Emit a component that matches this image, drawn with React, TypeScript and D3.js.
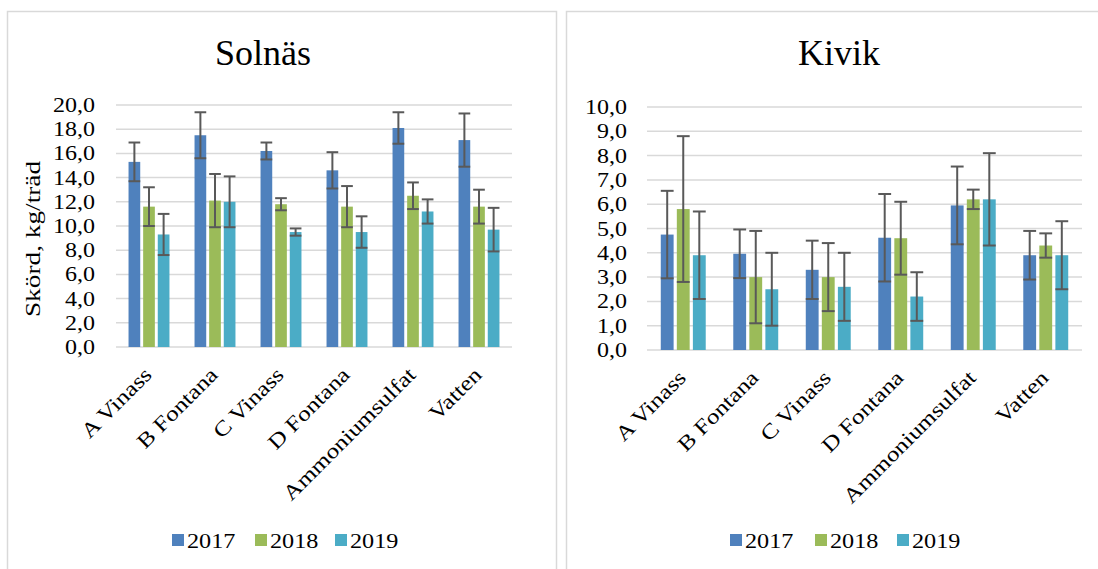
import React from "react";
import { scaleBand, scaleLinear } from "d3";

const categories = ["A Vinass", "B Fontana", "C Vinass", "D Fontana", "Ammoniumsulfat", "Vatten"];
const years = ["2017", "2018", "2019"];
const colors = ["#4F81BD", "#9BBB59", "#4BACC6"];

// Solnäs
const solnas2017 = [15.3, 17.5, 16.2, 14.6, 18.1, 17.1];
const solnas2018 = [11.6, 12.1, 11.8, 11.6, 12.5, 11.6];
const solnas2019 = [9.3, 12.0, 9.5, 9.5, 11.2, 9.7];
const solnasErr2017 = [1.6, 1.9, 0.7, 1.5, 1.3, 2.2];
const solnasErr2018 = [1.6, 2.2, 0.5, 1.7, 1.1, 1.4];
const solnasErr2019 = [1.7, 2.1, 0.3, 1.3, 1.0, 1.8];
const solnasTicks = [0, 2, 4, 6, 8, 10, 12, 14, 16, 18, 20];

// Kivik
const kivik2017 = [4.75, 3.96, 3.3, 4.62, 5.95, 3.9];
const kivik2018 = [5.8, 3.0, 3.0, 4.6, 6.2, 4.3];
const kivik2019 = [3.9, 2.5, 2.6, 2.2, 6.2, 3.9];
const kivikErr2017 = [1.8, 1.0, 1.2, 1.8, 1.6, 1.0];
const kivikErr2018 = [3.0, 1.9, 1.4, 1.5, 0.4, 0.5];
const kivikErr2019 = [1.8, 1.5, 1.4, 1.0, 1.9, 1.4];
const kivikTicks = [0, 1, 2, 3, 4, 5, 6, 7, 8, 9, 10];

const txt = { fontFamily: '"Liberation Serif", "DejaVu Serif", serif', fill: "#000" };
const fmt = (v: number) => v.toFixed(1).replace(".", ",");

type PanelProps = {
  title: string;
  series: number[][];
  errors: number[][];
  ticks: number[];
  left: number;
  right: number;
  zeroY: number;
  topY: number;
  titleX: number;
  labelX: number;
  legendX: number[];
  axisTitle?: string;
};

const Panel = (p: PanelProps) => {
  const yMax = p.ticks[p.ticks.length - 1];
  const y = scaleLinear().domain([0, yMax]).range([p.zeroY, p.topY]);
  const x0 = scaleBand<string>().domain(categories).range([p.left, p.right]).paddingInner(0.38).paddingOuter(0.19);
  const x1 = scaleBand<string>().domain(years).range([0, x0.bandwidth()]).paddingInner(0.2);
  const bw = x1.bandwidth();

  return (
    <g>
      <text x={p.titleX} y={65} textAnchor="middle" fontSize={36} style={txt}>
        {p.title}
      </text>
      {p.axisTitle && (
        <g transform={`translate(40, 239) rotate(-90) scale(1.3, 1)`}>
          <text x={0} y={0} textAnchor="middle" fontSize={21} style={txt}>
            {p.axisTitle}
          </text>
        </g>
      )}
      {p.ticks.map((t) => (
        <g key={t}>
          <line x1={p.left} x2={p.right} y1={y(t)} y2={y(t)} stroke="#D9D9D9" strokeWidth={1.5} />
          <g transform={`translate(${p.labelX}, ${y(t)}) scale(1.2, 1)`}>
            <text x={0} y={0} dy="0.35em" textAnchor="end" fontSize={20} style={txt}>
              {fmt(t)}
            </text>
          </g>
        </g>
      ))}
      {categories.map((c, i) => (
        <g key={c}>
          {years.map((yr, s) => {
            const v = p.series[s][i];
            const e = p.errors[s][i];
            const bx = (x0(c) || 0) + (x1(yr) || 0);
            const cx = bx + bw / 2;
            return (
              <g key={yr}>
                <rect x={bx} y={y(v)} width={bw} height={p.zeroY - y(v)} fill={colors[s]} />
                <line x1={cx} x2={cx} y1={y(v + e)} y2={y(v - e)} stroke="#595959" strokeWidth={2} />
                <line x1={bx} x2={bx + bw} y1={y(v + e)} y2={y(v + e)} stroke="#595959" strokeWidth={2} />
                <line x1={bx} x2={bx + bw} y1={y(v - e)} y2={y(v - e)} stroke="#595959" strokeWidth={2} />
              </g>
            );
          })}
          <g transform={`translate(${(x0(c) || 0) + x0.bandwidth() / 2 + 4}, ${p.zeroY + 29}) rotate(-45) scale(1.2, 1)`}>
            <text x={0} y={0} textAnchor="end" fontSize={21} style={txt}>
              {c}
            </text>
          </g>
        </g>
      ))}
      {years.map((yr, s) => (
        <g key={yr}>
          <rect x={p.legendX[s]} y={534} width={12} height={12} fill={colors[s]} />
          <g transform={`translate(${p.legendX[s] + 15}, 548) scale(1.1, 1)`}>
            <text x={0} y={0} fontSize={22} style={txt}>
              {yr}
            </text>
          </g>
        </g>
      ))}
    </g>
  );
};

export default function App() {
  return (
    <div style={{ position: "fixed", left: 0, top: 0 }}>
      <svg width={1098} height={569} style={{ display: "block", background: "#fff" }}>
        <rect x={0} y={0} width={1098} height={569} fill="#fff" />
        <rect x={7.5} y={11.5} width={549} height={600} fill="none" stroke="#D9D9D9" strokeWidth={1.5} />
        <rect x={566.5} y={11.5} width={600} height={600} fill="none" stroke="#D9D9D9" strokeWidth={1.5} />
        <Panel
          title="Solnäs"
          series={[solnas2017, solnas2018, solnas2019]}
          errors={[solnasErr2017, solnasErr2018, solnasErr2019]}
          ticks={solnasTicks}
          left={116}
          right={512}
          zeroY={347}
          topY={105}
          titleX={263}
          labelX={95}
          legendX={[172, 255, 335]}
          axisTitle="Skörd, kg/träd"
        />
        <Panel
          title="Kivik"
          series={[kivik2017, kivik2018, kivik2019]}
          errors={[kivikErr2017, kivikErr2018, kivikErr2019]}
          ticks={kivikTicks}
          left={647}
          right={1082}
          zeroY={350}
          topY={107}
          titleX={839}
          labelX={627}
          legendX={[730, 815, 897]}
        />
      </svg>
    </div>
  );
}
